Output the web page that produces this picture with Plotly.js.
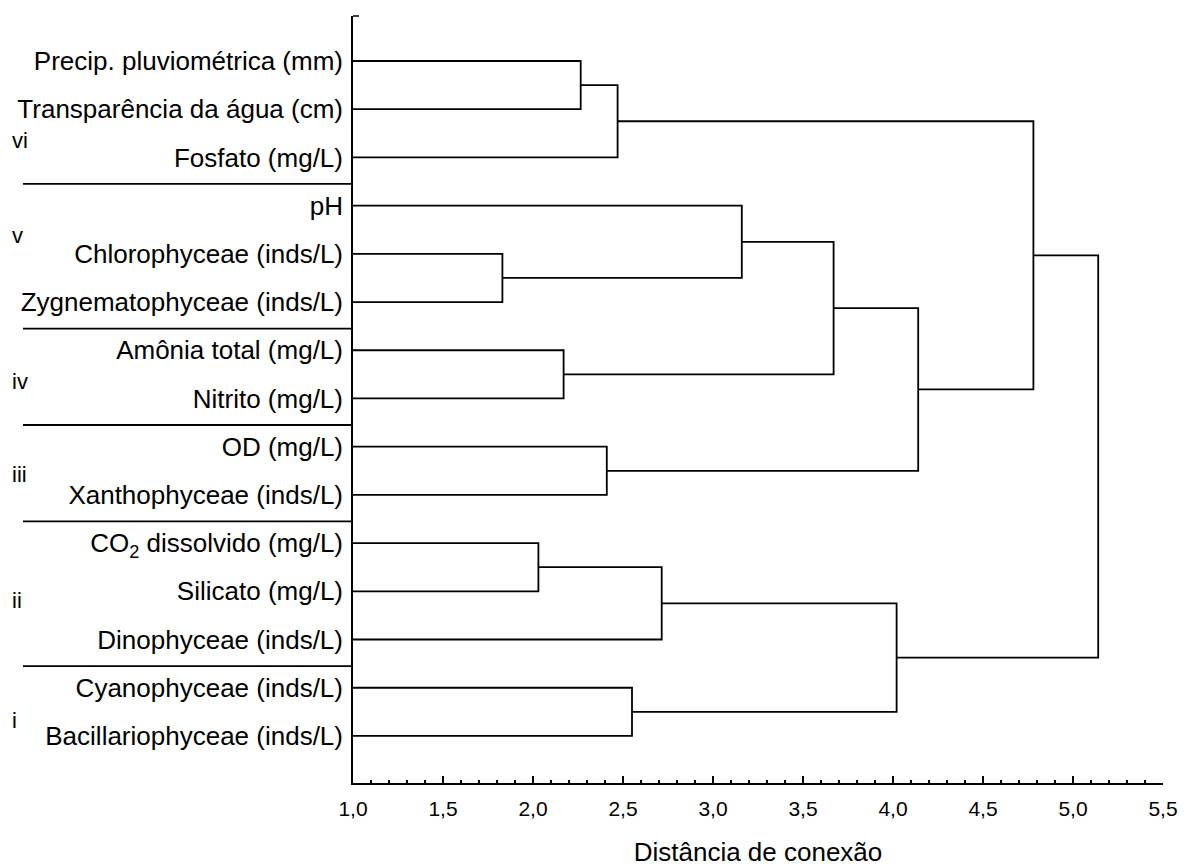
<!DOCTYPE html>
<html>
<head>
<meta charset="utf-8">
<script src="https://cdn.plot.ly/plotly-3.0.1.min.js"></script>
<style>html,body{margin:0;padding:0;background:#fff;}#chart{width:1189px;height:867px;}</style>
</head>
<body>
<div id="chart"></div>
<script>
// Leaves, top to bottom
const leafLabels = [
  'Precip. pluviométrica (mm)',
  'Transparência da água (cm)',
  'Fosfato (mg/L)',
  'pH',
  'Chlorophyceae (inds/L)',
  'Zygnematophyceae (inds/L)',
  'Amônia total (mg/L)',
  'Nitrito (mg/L)',
  'OD (mg/L)',
  'Xanthophyceae (inds/L)',
  'CO<sub>2</sub> dissolvido (mg/L)',
  'Silicato (mg/L)',
  'Dinophyceae (inds/L)',
  'Cyanophyceae (inds/L)',
  'Bacillariophyceae (inds/L)'
];
// Linkage: cluster ids 0..14 are leaves, merge k creates cluster 15+k
const mergeLeft   = [0, 15, 4, 3, 6, 18, 8, 20, 10, 23, 13, 24, 16, 27];
const mergeRight  = [1, 2, 5, 17, 7, 19, 9, 21, 11, 12, 14, 25, 22, 26];
const mergeHeight = [2.265, 2.47, 1.83, 3.16, 2.17, 3.67, 2.41, 4.14, 2.03, 2.715, 2.55, 4.02, 4.78, 5.14];

// Groups
const groupNames = ['vi', 'v', 'iv', 'iii', 'ii', 'i'];
const groupLastLeaf = [2, 5, 7, 9, 12, 14];
const groupLabelPos = [1.65, 3.63, 6.64, 8.58, 11.2, 13.67];

const xTickVals = [1.0, 1.5, 2.0, 2.5, 3.0, 3.5, 4.0, 4.5, 5.0, 5.5];

// Build dendrogram segments
const n = leafLabels.length;
const nodeY = [], nodeX = [];
for (let i = 0; i < n; i++) { nodeY.push(i); nodeX.push(0); }
const xs = [], ys = [];
for (let k = 0; k < mergeLeft.length; k++) {
  const a = mergeLeft[k], b = mergeRight[k], h = mergeHeight[k];
  xs.push(nodeX[a], h, h, nodeX[b], null);
  ys.push(nodeY[a], nodeY[a], nodeY[b], nodeY[b], null);
  nodeX.push(h);
  nodeY.push((nodeY[a] + nodeY[b]) / 2);
}

const font = 'Liberation Sans, Arial, sans-serif';

const trace = {
  type: 'scatter', mode: 'lines', x: xs, y: ys,
  line: {color: '#000', width: 1.8},
  hoverinfo: 'skip', showlegend: false, cliponaxis: true
};

const x0px = 353, x1px = 1163;
const pw = x1px - x0px;
const sepStart = (23 - x0px) / pw;
const grpLabelX = (10 - x0px) / pw;

const shapes = [];
for (let g = 0; g < groupLastLeaf.length - 1; g++) {
  const yb = groupLastLeaf[g] + 0.55;
  shapes.push({type: 'line', xref: 'paper', yref: 'y', x0: sepStart, x1: 0, y0: yb, y1: yb,
    line: {color: '#000', width: 1.8}});
}
// small tick at the top end of the y axis
shapes.push({type: 'line', xref: 'paper', yref: 'paper', x0: 0, x1: 6 / pw, y0: 1, y1: 1,
  line: {color: '#000', width: 1.5}});

const annotations = groupNames.map((g, i) => ({
  text: g, xref: 'paper', yref: 'y', x: grpLabelX, y: groupLabelPos[i],
  xanchor: 'left', yanchor: 'middle', showarrow: false,
  font: {family: font, size: 22, color: '#000'}
}));

const layout = {
  width: 1189, height: 867,
  margin: {l: x0px, r: 1189 - x1px, t: 16, b: 84, pad: 0},
  paper_bgcolor: '#fff', plot_bgcolor: '#fff',
  separators: ',.',
  showlegend: false,
  font: {family: font, color: '#000'},
  xaxis: {
    range: [1.0, 5.5], showgrid: false, zeroline: false,
    showline: true, linecolor: '#000', linewidth: 1.8,
    tickmode: 'array', tickvals: xTickVals, tickformat: '.1f',
    ticks: 'inside', ticklen: 7, tickwidth: 1.5, tickcolor: '#000',
    minor: {dtick: 0.1, ticks: 'inside', ticklen: 3, tickwidth: 1.5, tickcolor: '#000', showgrid: false},
    tickfont: {family: font, size: 21, color: '#000'},
    ticklabelstandoff: 6,
    title: {text: 'Distância de conexão', font: {family: font, size: 26, color: '#000'}, standoff: 24}
  },
  yaxis: {
    range: [14.976, -0.933], showgrid: false, zeroline: false,
    showline: true, linecolor: '#000', linewidth: 1.8,
    tickmode: 'array', tickvals: leafLabels.map((_, i) => i), ticktext: leafLabels,
    ticks: '', ticklabelstandoff: 3,
    tickfont: {family: font, size: 26, color: '#000'}
  },
  shapes: shapes,
  annotations: annotations
};

Plotly.newPlot('chart', [trace], layout, {staticPlot: true, displayModeBar: false});
</script>
</body>
</html>
